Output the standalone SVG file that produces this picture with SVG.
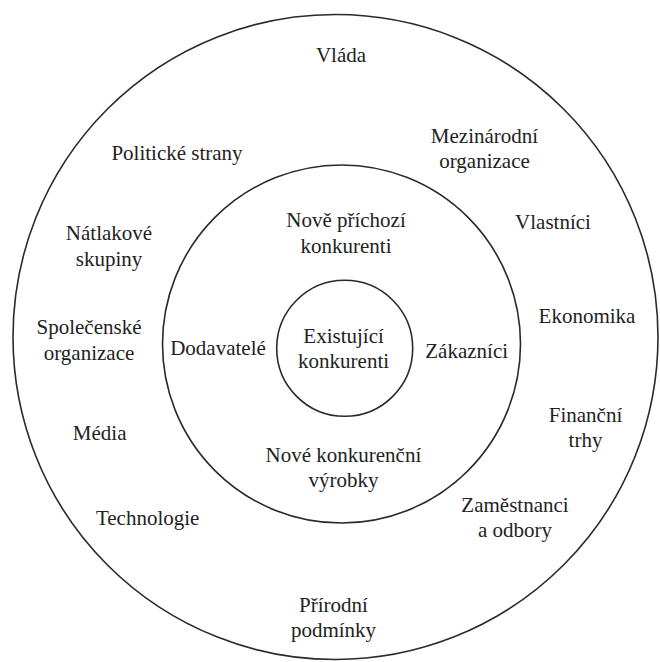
<svg xmlns="http://www.w3.org/2000/svg" width="660" height="662" viewBox="0 0 660 662">
<style>
.ring{fill:none;stroke:#2a2a2a;stroke-width:1.6}
.t{font-family:'Liberation Serif','Times New Roman','DejaVu Serif',serif;font-size:21px;fill:#222;text-anchor:middle}
</style>
<rect width="660" height="662" fill="#fff"/>
<g id="rings">
<circle id="outer" class="ring" cx="335.5" cy="337" r="322.5"/>
<circle id="middle" class="ring" cx="341.5" cy="344" r="179"/>
<circle id="inner" class="ring" cx="344.7" cy="348.3" r="68"/>
</g>
<g id="connectors"></g>
<g class="t" font-family="Liberation Serif, Times New Roman, DejaVu Serif, serif">
<g id="n-vlada"><text x="341" y="62">Vláda</text></g>
<g id="n-politicke"><text x="177" y="160">Politické strany</text></g>
<g id="n-mezinarodni"><text x="484.5" y="143">Mezinárodní</text><text x="484.5" y="168">organizace</text></g>
<g id="n-vlastnici"><text x="553" y="229">Vlastníci</text></g>
<g id="n-natlakove"><text x="109" y="240">Nátlakové</text><text x="109" y="265.5">skupiny</text></g>
<g id="n-nove-prichozi"><text x="346" y="227">Nově příchozí</text><text x="346" y="252.5">konkurenti</text></g>
<g id="n-ekonomika"><text x="587" y="323">Ekonomika</text></g>
<g id="n-spolecenske"><text x="89" y="334">Společenské</text><text x="89" y="359.5">organizace</text></g>
<g id="n-dodavatele"><text x="218" y="354.5">Dodavatelé</text></g>
<g id="n-existujici"><text x="343.6" y="343">Existující</text><text x="343.6" y="368">konkurenti</text></g>
<g id="n-zakaznici"><text x="466.7" y="358">Zákazníci</text></g>
<g id="n-financni"><text x="585.5" y="421.5">Finanční</text><text x="585.5" y="446.5">trhy</text></g>
<g id="n-media"><text x="99.7" y="440">Média</text></g>
<g id="n-nove-vyrobky"><text x="343.4" y="461.5">Nové konkurenční</text><text x="343.4" y="486.5">výrobky</text></g>
<g id="n-zamestnanci"><text x="515" y="511.5">Zaměstnanci</text><text x="515" y="537">a odbory</text></g>
<g id="n-technologie"><text x="147.7" y="524.5">Technologie</text></g>
<g id="n-prirodni"><text x="333.5" y="611.5">Přírodní</text><text x="333.5" y="637">podmínky</text></g>
</g>
</svg>
